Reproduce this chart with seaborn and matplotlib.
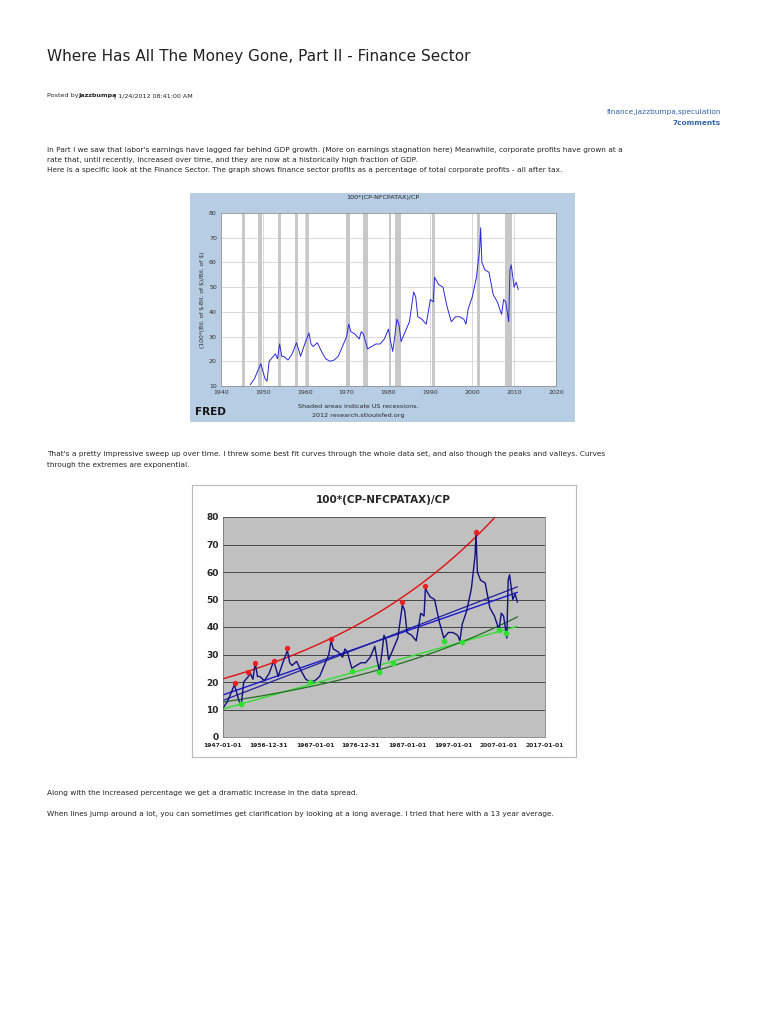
import numpy as np
import matplotlib
matplotlib.use("Agg")
import matplotlib.pyplot as plt
import seaborn as sns

sns.set_theme(style="white")
plt.rcParams['font.family'] = ['DejaVu Sans']

years = [1947, 1948, 1949, 1949.5, 1950, 1950.5, 1951, 1951.5, 1952, 1953, 1953.5, 1954, 1954.5, 1955, 1956,
         1957, 1958, 1958.5, 1959, 1960, 1961, 1961.5, 1962, 1963, 1964, 1965, 1966, 1967, 1968, 1969, 1970,
         1970.5, 1971, 1972, 1973, 1973.5, 1974, 1975, 1976, 1977, 1978, 1979, 1980, 1980.5, 1981, 1981.5,
         1982, 1982.5, 1983, 1984, 1985, 1986, 1986.5, 1987, 1988, 1989, 1990, 1990.7, 1991, 1992, 1993,
         1994, 1995, 1996, 1997, 1998, 1998.5, 1999, 2000, 2001, 2001.8, 2002, 2002.3, 2003, 2004, 2005,
         2006, 2007, 2007.5, 2008, 2008.7, 2009, 2009.3, 2010, 2010.5, 2011]
share = [10.5, 13, 17, 19, 16, 13, 12, 20, 21, 23, 21, 27, 22, 22, 20.5,
         23, 27.5, 25, 22, 27, 31.5, 27, 26, 27.5, 24, 21, 20, 20.5, 22, 26, 30,
         35, 32, 31, 29, 32, 31, 25, 26, 27, 27, 29, 33, 28, 24, 30,
         37, 35, 28, 32, 36, 48, 46, 38, 37, 35, 45, 44, 54, 51, 50,
         42, 36, 38, 38, 37, 35, 41, 46, 54, 66, 74, 60, 57, 56, 47,
         44, 39, 45, 44, 36, 57, 59, 50, 52, 49]
peak_x = [1949.5, 1952.5, 1954, 1958, 1961, 1970.5, 1986, 1991, 2002]
peak_y = [19.5, 23.5, 27, 27.5, 32.5, 35.5, 49, 55, 74.5]
valley_x = [1951, 1966, 1975, 1981, 1984, 1995, 1999, 2007, 2008.5]
valley_y = [12, 20, 24, 23.5, 27, 35, 34.5, 39, 38]
rec_start = [1945, 1948.9, 1953.5, 1957.6, 1960.3, 1969.9, 1973.9, 1980.0, 1981.5, 1990.5, 2001.2, 2007.9]
rec_end = [1945.8, 1949.8, 1954.3, 1958.3, 1961.1, 1970.9, 1975.2, 1980.5, 1982.9, 1991.2, 2001.9, 2009.5]
fred_xticks = [1940, 1950, 1960, 1970, 1980, 1990, 2000, 2010, 2020]
xl_ticks = [1947, 1957, 1967, 1977, 1987, 1997, 2007, 2017]
xl_labels = ['1947-01-01', '1956-12-31', '1967-01-01', '1976-12-31', '1987-01-01',
             '1997-01-01', '2007-01-01', '2017-01-01']

W, H = 768, 1024
fig = plt.figure(figsize=(7.68, 10.24), dpi=100)
def fx(px): return px / W
def fy(py): return 1 - py / H
def T(x, y, s, **kw):
    kw.setdefault('fontsize', 5.3)
    kw.setdefault('va', 'center')
    fig.text(fx(x), fy(y), s, zorder=10, **kw)
def box(x0, y0, x1, y1, **kw):
    a = fig.add_axes([fx(x0), fy(y1), fx(x1) - fx(x0), fy(y0) - fy(y1)], zorder=0)
    a.set_xticks([]); a.set_yticks([])
    a.set_facecolor(kw.get('fc', 'white'))
    for s in a.spines.values():
        s.set_color(kw.get('ec', 'none')); s.set_linewidth(0.8)
    return a

T(47, 57, 'Where Has All The Money Gone, Part II - Finance Sector', fontsize=11, color='#222222', weight='medium')
T(47, 96, 'Posted by', fontsize=4.6)
T(78, 96, 'Jazzbumpa', fontsize=4.6, weight='bold')
T(114, 96, '| 1/24/2012 08:41:00 AM', fontsize=4.6)
T(721, 112, 'finance,jazzbumpa,speculation', ha='right', color='#3366aa')
T(721, 123, '7comments', ha='right', color='#3366aa', weight='bold')
T(47, 150, "In Part I we saw that labor's earnings have lagged far behind GDP growth. (More on earnings stagnation here) Meanwhile, corporate profits have grown at a")
T(47, 160, 'rate that, until recently, increased over time, and they are now at a historically high fraction of GDP.')
T(47, 170, 'Here is a specific look at the Finance Sector. The graph shows finance sector profits as a percentage of total corporate profits - all after tax.')
T(47, 454, "That's a pretty impressive sweep up over time. I threw some best fit curves through the whole data set, and also though the peaks and valleys. Curves")
T(47, 465, 'through the extremes are exponential.')
T(47, 793, 'Along with the increased percentage we get a dramatic increase in the data spread.')
T(47, 814, 'When lines jump around a lot, you can sometimes get clarification by looking at a long average. I tried that here with a 13 year average.')

# FRED chart
box(190, 193, 575, 422, fc='#b7cde4')
ax1 = fig.add_axes([fx(221), fy(386), fx(556) - fx(221), fy(213) - fy(386)], zorder=2)
ax1.set_facecolor('white')
for a, b in zip(rec_start, rec_end):
    ax1.axvspan(a, b, color='#c8c8c8', lw=0, zorder=1)
sns.lineplot(x=years, y=share, ax=ax1, color='#2a2ad8', lw=0.7, zorder=3)
ax1.set_xlim(1940, 2020); ax1.set_ylim(10, 80)
ax1.set_xticks(fred_xticks); ax1.set_yticks(range(10, 81, 10))
ax1.grid(True, color='#cccccc', lw=0.5); ax1.set_axisbelow(True)
ax1.tick_params(labelsize=4.5, length=2, pad=1, colors='#333333')
for s in ax1.spines.values(): s.set_color('#888888'); s.set_linewidth(0.5)
ax1.set_ylabel('(100*(Bil. of $-Bil. of $)/Bil. of $)', fontsize=4.3, labelpad=3)
T(383, 198, '100*(CP-NFCPATAX)/CP', ha='center', fontsize=4.6)
T(358, 407, 'Shaded areas indicate US recessions.', ha='center', fontsize=4.6)
T(358, 416, '2012 research.stlouisfed.org', ha='center', fontsize=4.6)
T(195, 412, 'FRED', fontsize=7.5, weight='bold', color='#111111')

# Excel chart
box(192, 485, 576, 757, fc='white', ec='#bbbbbb')
ax2 = fig.add_axes([fx(223), fy(737), fx(545) - fx(223), fy(517) - fy(737)], zorder=2)
ax2.set_facecolor('#c0c0c0')
xs = np.array(years); ys = np.array(share)
xx = np.linspace(1947, 2011, 200)
c1 = np.polyfit(xs, ys, 1)
ax2.plot(xx, np.polyval(c1, xx), color='#1a1ad0', lw=1.0)
ax2.plot(xx, np.polyval(c1, xx) + 4.0 * (xx - 1947) / 64 - 2.0, color='#2020a0', lw=0.9)
cp = np.polyfit(peak_x, np.log(peak_y), 1)
xr = np.linspace(1947, 2017, 200)
ax2.plot(xr, np.exp(np.polyval(cp, xr)), color='#e01010', lw=1.0)
cv = np.polyfit(valley_x, valley_y, 1)
ax2.plot(xx, np.polyval(cv, xx), color='#30e030', lw=1.0)
cve = np.polyfit(valley_x, np.log(valley_y), 1)
ax2.plot(xx, np.exp(np.polyval(cve, xx)), color='#207020', lw=0.9)
sns.lineplot(x=years, y=share, ax=ax2, color='#101080', lw=1.0)
ax2.scatter(peak_x, peak_y, color='#ee2020', s=8, zorder=5)
ax2.scatter(valley_x, valley_y, color='#30e030', s=10, zorder=5)
ax2.set_xlim(1947, 2017); ax2.set_ylim(0, 80)
ax2.set_xticks(xl_ticks); ax2.set_xticklabels(xl_labels)
ax2.set_yticks(range(0, 81, 10))
ax2.grid(True, axis='y', color='#333333', lw=0.6); ax2.set_axisbelow(True)
ax2.tick_params(axis='x', labelsize=4.3, length=2, pad=2)
ax2.tick_params(axis='y', labelsize=6.5, length=0, pad=3)
for lab in ax2.get_xticklabels() + ax2.get_yticklabels(): lab.set_fontweight('bold')
for s in ax2.spines.values(): s.set_color('#666666'); s.set_linewidth(0.5)
T(383, 500, '100*(CP-NFCPATAX)/CP', ha='center', fontsize=7.5, weight='bold')

fig.savefig('out.png', dpi=100)
